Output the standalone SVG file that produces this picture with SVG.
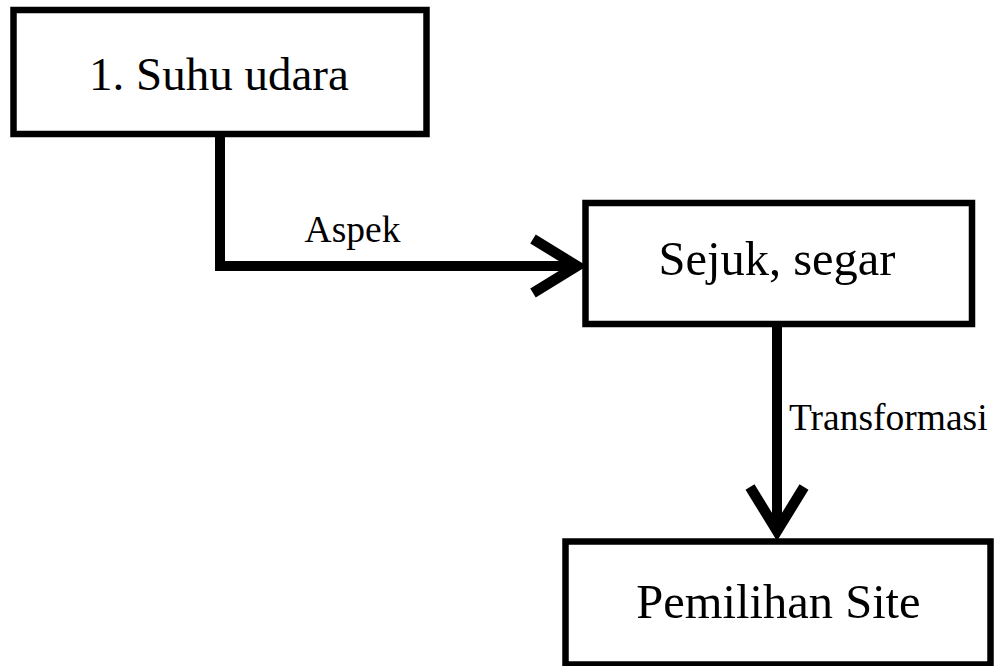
<svg xmlns="http://www.w3.org/2000/svg" width="994" height="666" viewBox="0 0 994 666">
  <style>
    .box { fill: #ffffff; stroke: #000000; stroke-width: 6.5; }
    .title { font-family: "Liberation Serif", "Times New Roman", serif; font-size: 48.5px; fill: #000000; text-anchor: middle; }
    .label { font-family: "Liberation Serif", "Times New Roman", serif; font-size: 37.5px; fill: #000000; }
    .conn { fill: none; stroke: #000000; stroke-width: 10; stroke-linejoin: miter; }
  </style>
  <defs>
    <marker id="vhead" markerUnits="userSpaceOnUse" viewBox="-60 -40 70 80" markerWidth="70" markerHeight="80" refX="0" refY="0" orient="auto" overflow="visible">
      <path d="M-44,-27 L0,0 L-44,27" fill="none" stroke="#000000" stroke-width="10.5" stroke-linejoin="miter" stroke-miterlimit="10"/>
    </marker>
  </defs>
  <rect width="994" height="666" fill="#ffffff"/>

  <g id="connectors">
    <path class="conn" d="M220,136 L220,266 L577,266" marker-end="url(#vhead)"/>
    <path class="conn" d="M777,326 L777,531" stroke-width="9" marker-end="url(#vhead)"/>
    <text class="label" x="352.5" y="242" text-anchor="middle">Aspek</text>
    <text class="label" x="789" y="430">Transformasi</text>
  </g>

  <g id="node-suhu">
    <rect class="box" x="13.5" y="10" width="413" height="124"/>
    <text class="title" x="219" y="90" style="font-size:47px">1. Suhu udara</text>
  </g>

  <g id="node-sejuk">
    <rect class="box" x="585.5" y="203" width="386.5" height="121"/>
    <text class="title" x="777" y="275">Sejuk, segar</text>
  </g>

  <g id="node-pemilihan">
    <rect class="box" x="565.5" y="541.5" width="425" height="123"/>
    <text class="title" x="778.5" y="618">Pemilihan Site</text>
  </g>
</svg>
